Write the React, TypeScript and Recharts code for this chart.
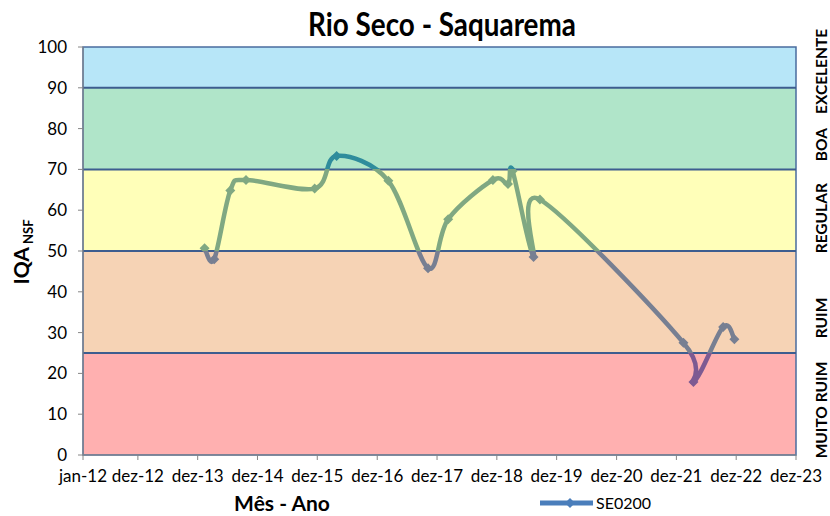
import React from "react";
import {
  LineChart,
  Line,
  XAxis,
  YAxis,
  ReferenceArea,
  ReferenceLine,
  Legend,
} from "recharts";

const seriesName = "SE0200";

// collection dates and IQA values
const sampleDates = [
  "2014-01-12", "2014-03-12", "2014-06-18", "2014-09-22", "2015-11-15",
  "2016-03-28", "2017-02-07", "2017-10-07", "2018-02-07", "2018-11-07",
  "2019-02-07", "2019-03-07", "2019-07-13", "2019-08-21", "2022-01-13",
  "2022-03-15", "2022-09-12", "2022-11-20",
];
const iqaValues = [
  50.7, 48.0, 64.8, 67.4, 65.3, 73.3, 67.2, 45.8, 57.8, 67.4, 66.4, 69.6,
  48.5, 62.6, 27.5, 17.9, 31.4, 28.4,
];

const tickDates = [
  "2012-01-01", "2012-12-01", "2013-12-01", "2014-12-01", "2015-12-01",
  "2016-12-01", "2017-12-01", "2018-12-01", "2019-12-01", "2020-12-01",
  "2021-12-01", "2022-12-01", "2023-12-01",
];
const tickLabels = [
  "jan-12", "dez-12", "dez-13", "dez-14", "dez-15", "dez-16", "dez-17",
  "dez-18", "dez-19", "dez-20", "dez-21", "dez-22", "dez-23",
];
const yTicks = [0, 10, 20, 30, 40, 50, 60, 70, 80, 90, 100];

// quality classes
const bandNames = ["EXCELENTE", "BOA", "REGULAR", "RUIM", "MUITO RUIM"];
const bandLow = [90, 70, 50, 25, 0];
const bandHigh = [100, 90, 70, 50, 25];
const bandBorders = [25, 50, 70, 90];

const bandColors = ["#b7e6f8", "#b0e5c9", "#ffffb9", "#f6d3b5", "#ffb0b0"];
const bandLabelShift = [4, 16, 8, 16, 6];
const FONT = "Lato, 'Open Sans', sans-serif";

const xTicks = tickDates.map((d) => Date.parse(d));
const data = sampleDates.map((d, i) => ({ t: Date.parse(d), v: iqaValues[i] }));

// Excel-like smoothed line (Catmull-Rom as cubic bezier)
function excelSmooth(context: any) {
  let pts: number[][] = [];
  return {
    areaStart() {},
    areaEnd() {},
    lineStart() {
      pts = [];
    },
    point(x: number, y: number) {
      pts.push([+x, +y]);
    },
    lineEnd() {
      if (!pts.length) return;
      context.moveTo(pts[0][0], pts[0][1]);
      for (let i = 0; i < pts.length - 1; i++) {
        const p0 = pts[i - 1] || pts[i];
        const p1 = pts[i];
        const p2 = pts[i + 1];
        const p3 = pts[i + 2] || p2;
        context.bezierCurveTo(
          p1[0] + (p2[0] - p0[0]) / 6,
          p1[1] + (p2[1] - p0[1]) / 6,
          p2[0] - (p3[0] - p1[0]) / 6,
          p2[1] - (p3[1] - p1[1]) / 6,
          p2[0],
          p2[1]
        );
      }
    },
  };
}

const Diamond = (props: any) => {
  const { cx, cy } = props;
  if (cx == null || cy == null) return null;
  const r = 5;
  return (
    <polygon
      points={`${cx},${cy - r} ${cx + r},${cy} ${cx},${cy + r} ${cx - r},${cy}`}
      fill="url(#iqaGrad)"
    />
  );
};

const bandLabel = (i: number) => (props: any) => {
  const vb = props.viewBox;
  if (!vb) return null;
  const x = vb.x + vb.width + 31;
  const y = vb.y + vb.height / 2 + bandLabelShift[i];
  return (
    <text
      x={x}
      y={y}
      transform={`rotate(-90, ${x}, ${y})`}
      textAnchor="middle"
      fontFamily={FONT}
      fontWeight="bold"
      fontSize={15.5}
      fill="#000"
    >
      {bandNames[i]}
    </text>
  );
};

const YTitle = () => (
  <text
    x={29}
    y={252}
    transform="rotate(-90, 29, 252)"
    textAnchor="middle"
    fontFamily={FONT}
    fontWeight="bold"
    fontSize={21}
    fill="#000"
  >
    IQA
    <tspan fontSize={13} dy={4}>
      {" NSF"}
    </tspan>
  </text>
);

const XTitle = () => (
  <text
    x={282}
    y={511}
    textAnchor="middle"
    fontFamily={FONT}
    fontWeight="bold"
    fontSize={21}
    fill="#000"
  >
    Mês - Ano
  </text>
);

const LegendBox = () => (
  <svg width={120} height={22}>
    <line x1={0} y1={11} x2={53} y2={11} stroke="#4a7ebb" strokeWidth={5} />
    <polygon points="30,6 35,11 30,16 25,11" fill="#4a7ebb" />
    <text x={56} y={17} fontFamily={FONT} fontSize={16} fill="#000">
      {seriesName}
    </text>
  </svg>
);

export default function App() {
  return (
    <div style={{ position: "absolute", left: 0, top: 0, width: 830, height: 516, background: "#fff" }}>
      <div
        style={{
          position: "absolute",
          left: 242,
          top: 8,
          width: 400,
          textAlign: "center",
          fontFamily: FONT,
          fontWeight: "bold",
          fontSize: 32,
          lineHeight: "32px",
          transform: "scaleX(0.87)",
        }}
      >
        Rio Seco - Saquarema
      </div>
      <LineChart
        width={830}
        height={516}
        data={data}
        margin={{ top: 47, right: 34, bottom: 31, left: 8 }}
      >
        <defs>
          <linearGradient id="iqaGrad" gradientUnits="userSpaceOnUse" x1={0} y1={47} x2={0} y2={455}>
            <stop offset="0.3" stopColor="#2f8c9c" />
            <stop offset="0.3" stopColor="#80a882" />
            <stop offset="0.5" stopColor="#80a882" />
            <stop offset="0.5" stopColor="#777f92" />
            <stop offset="0.75" stopColor="#777f92" />
            <stop offset="0.75" stopColor="#7d5a92" />
          </linearGradient>
        </defs>
        {bandNames.map((n, i) => (
          <ReferenceArea
            key={n}
            y1={bandLow[i]}
            y2={bandHigh[i]}
            fill={bandColors[i]}
            fillOpacity={1}
            stroke="none"
            label={bandLabel(i)}
          />
        ))}
        {bandBorders.map((b) => (
          <ReferenceLine key={b} y={b} stroke="#3d5d8f" strokeWidth={2} />
        ))}
        <ReferenceArea
          y1={0}
          y2={100}
          fill="none"
          fillOpacity={0}
          stroke="#4a6c9e"
          strokeWidth={1.5}
        />
        <XAxis
          type="number"
          dataKey="t"
          domain={[xTicks[0], xTicks[xTicks.length - 1]]}
          ticks={xTicks}
          tickFormatter={(t: number) => tickLabels[xTicks.indexOf(t)]}
          interval={0}
          height={30}
          tickSize={5}
          tickMargin={10}
          stroke="#868686"
          tick={{ fill: "#000", fontSize: 17, fontFamily: FONT }}
          allowDataOverflow
          label={<XTitle />}
        />
        <YAxis
          domain={[0, 100]}
          ticks={yTicks}
          width={75}
          tickSize={5}
          tickMargin={11}
          interval={0}
          stroke="#868686"
          tick={{ fill: "#000", fontSize: 17, fontFamily: FONT }}
          label={<YTitle />}
        />
        <Legend
          layout="horizontal"
          verticalAlign="middle"
          align="center"
          wrapperStyle={{ left: 540, top: 492, width: 130 }}
          content={() => <LegendBox />}
        />
        <Line
          type={excelSmooth as any}
          dataKey="v"
          name={seriesName}
          stroke="url(#iqaGrad)"
          strokeWidth={4.5}
          dot={<Diamond />}
          activeDot={false}
          isAnimationActive={false}
        />
      </LineChart>
    </div>
  );
}
